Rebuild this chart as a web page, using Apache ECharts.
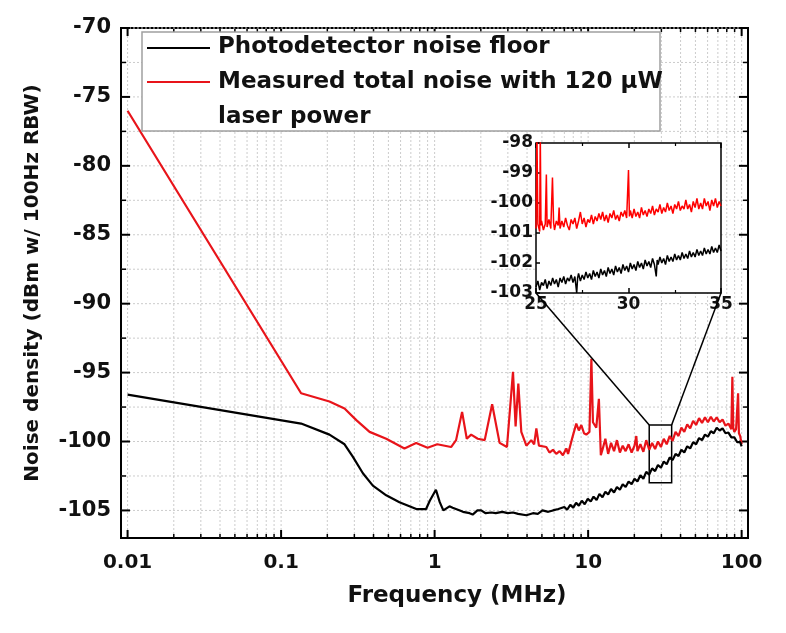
<!DOCTYPE html>
<html>
<head>
<meta charset="utf-8">
<script src="https://cdn.jsdelivr.net/npm/echarts@6/dist/echarts.min.js"></script>
<style>html,body{margin:0;padding:0;background:#fff}#c{width:786px;height:633px}</style>
</head>
<body>
<div id="c"></div>
<script>
// ---------- data (frequency in MHz, noise density in dBm / 100 Hz RBW) ----------
const photodetectorFloor = [
  [0.01,-96.6],[0.135,-98.7],[0.2065,-99.5],[0.259,-100.2],[0.293,-101.1],[0.341,-102.3],[0.396,-103.2],
  [0.484,-103.9],[0.59,-104.4],[0.76,-104.9],[0.88,-104.9],[0.93,-104.3],[1.02,-103.5],[1.08,-104.4],
  [1.14,-105.0],[1.25,-104.7],[1.31,-104.8],[1.46,-105.0],[1.53,-105.1],[1.69,-105.2],[1.77,-105.3],
  [1.9,-105.0],[2.01,-105.0],[2.15,-105.2],[2.34,-105.15],[2.5,-105.2],[2.76,-105.1],[3.0,-105.2],
  [3.24,-105.15],[3.5,-105.25],[3.96,-105.35],[4.37,-105.2],[4.7,-105.25],[5.04,-105.0],[5.5,-105.1],
  [5.9,-105.0],[6.4,-104.9],[7.0,-104.75],[7.3,-104.95],[7.65,-104.6],[8.0,-104.8],[8.35,-104.45],
  [8.7,-104.65],[9.1,-104.3],[9.5,-104.55],[9.95,-104.15],[10.4,-104.35],[10.85,-104.0],[11.35,-104.25],
  [11.85,-103.8],[12.4,-104.05],[12.95,-103.65],[13.5,-103.85],[14.1,-103.45],[14.75,-103.7],[15.4,-103.3],
  [16.1,-103.5],[16.8,-103.1],[17.55,-103.3],[18.35,-102.9],[19.2,-103.1],[20.05,-102.7],[20.95,-102.9],
  [21.9,-102.45],[22.9,-102.7],[23.9,-102.2],[25.0,-102.4],[26.1,-101.95],[27.3,-102.15],[28.5,-101.7],
  [29.8,-101.9],[31.1,-101.45],[32.5,-101.65],[34.0,-101.15],[35.5,-101.35],[37.1,-100.9],[38.8,-101.05],
  [40.5,-100.6],[42.3,-100.8],[44.2,-100.35],[46.2,-100.5],[48.3,-100.05],[50.5,-100.2],[52.8,-99.75],
  [55.2,-99.9],[57.7,-99.5],[60.3,-99.65],[63.0,-99.25],[65.8,-99.4],[68.8,-99.0],[71.9,-99.2],
  [75.1,-99.05],[78.5,-99.4],[82.0,-99.35],[85.7,-99.7],[89.6,-99.7],[93.6,-100.05],[97.8,-100.05],[100,-100.35]
];
const measuredTotal = [
  [0.01,-76.0],[0.135,-96.5],[0.2065,-97.1],[0.259,-97.6],[0.309,-98.45],[0.377,-99.3],[0.484,-99.8],
  [0.636,-100.5],[0.758,-100.1],[0.9,-100.45],[1.04,-100.2],[1.28,-100.4],[1.38,-99.9],[1.51,-97.85],
  [1.62,-99.8],[1.73,-99.5],[1.91,-99.8],[2.12,-99.9],[2.37,-97.3],[2.65,-100.1],[2.96,-100.4],
  [3.24,-94.95],[3.37,-98.9],[3.51,-95.8],[3.67,-99.3],[3.96,-100.3],[4.26,-99.9],[4.45,-100.2],
  [4.6,-99.05],[4.78,-100.3],[5.34,-100.4],[5.6,-100.8],[5.9,-100.6],[6.2,-100.9],[6.52,-100.7],
  [6.85,-101.0],[7.21,-100.5],[7.4,-100.9],[7.57,-101.0],[7.9,-99.7],[8.37,-98.7],[8.7,-99.2],
  [9.03,-98.8],[9.4,-99.4],[9.73,-99.5],[10.2,-99.3],[10.5,-94.0],[10.75,-98.6],[11.0,-98.6],
  [11.3,-99.0],[11.75,-96.9],[12.1,-101.0],[12.4,-100.6],[12.95,-99.8],[13.5,-100.9],[14.1,-100.1],
  [14.75,-100.7],[15.4,-99.9],[16.1,-100.8],[16.8,-100.3],[17.55,-100.7],[18.35,-100.2],[19.2,-100.8],
  [20.05,-100.3],[20.6,-99.6],[20.95,-100.7],[21.9,-100.2],[22.9,-100.75],[23.9,-99.9],[25.0,-100.6],
  [26.1,-100.1],[27.3,-100.55],[28.5,-100.0],[29.8,-100.4],[31.1,-99.8],[32.5,-100.2],[34.0,-99.6],
  [35.5,-99.95],[37.1,-99.3],[38.8,-99.6],[40.5,-99.0],[42.3,-99.3],[44.2,-98.75],[46.2,-99.05],
  [48.3,-98.5],[50.5,-98.8],[52.8,-98.3],[55.2,-98.65],[57.7,-98.25],[60.3,-98.6],[63.0,-98.2],
  [65.8,-98.55],[68.8,-98.25],[71.9,-98.6],[75.1,-98.4],[78.5,-98.85],[82.0,-98.7],[85.7,-99.1],
  [87.0,-95.3],[88.2,-99.0],[89.6,-99.3],[92.0,-99.1],[94.8,-96.5],[96.0,-99.4],[97.8,-99.6],[100,-100.2]
];
// inset (25 - 35 MHz)
const insetTotal = [
  [25.0,-100.85],[25.05,-97.6],[25.1,-100.7],[25.2,-100.95],[25.23,-97.6],[25.27,-100.75],[25.3,-100.6],
  [25.4,-100.9],[25.5,-100.7],[25.56,-99.05],[25.6,-100.8],[25.7,-100.55],[25.8,-100.85],[25.89,-99.15],
  [25.95,-100.65],[26.0,-100.9],[26.1,-100.6],[26.2,-100.75],[26.25,-100.15],[26.3,-100.85],[26.4,-100.6],
  [26.5,-100.8],[26.6,-100.5],[26.7,-100.75],[26.8,-100.9],[26.9,-100.55],[27.0,-100.7],[27.1,-100.5],
  [27.2,-100.85],[27.3,-100.6],[27.4,-100.3],[27.5,-100.7],[27.6,-100.5],[27.7,-100.8],[27.8,-100.55],
  [27.9,-100.65],[28.0,-100.4],[28.1,-100.7],[28.2,-100.45],[28.3,-100.6],[28.4,-100.35],[28.5,-100.55],
  [28.6,-100.3],[28.7,-100.6],[28.8,-100.4],[28.9,-100.65],[29.0,-100.35],[29.1,-100.5],[29.2,-100.25],
  [29.3,-100.55],[29.4,-100.4],[29.5,-100.6],[29.6,-100.3],[29.7,-100.45],[29.8,-100.25],[29.9,-100.5],
  [30.0,-98.9],[30.05,-100.45],[30.1,-100.25],[30.2,-100.5],[30.3,-100.2],[30.4,-100.45],[30.5,-100.3],
  [30.6,-100.5],[30.7,-100.15],[30.8,-100.4],[30.9,-100.25],[31.0,-100.45],[31.1,-100.2],[31.2,-100.35],
  [31.3,-100.1],[31.4,-100.4],[31.5,-100.2],[31.6,-100.3],[31.7,-100.05],[31.8,-100.35],[31.9,-100.15],
  [32.0,-100.3],[32.1,-100.0],[32.2,-100.25],[32.3,-100.1],[32.4,-100.35],[32.5,-100.05],[32.6,-100.2],
  [32.7,-99.95],[32.8,-100.25],[32.9,-100.1],[33.0,-100.2],[33.1,-99.9],[33.2,-100.2],[33.3,-100.05],
  [33.4,-100.3],[33.5,-99.95],[33.6,-100.15],[33.7,-99.85],[33.8,-100.2],[33.9,-100.0],[34.0,-100.2],
  [34.1,-99.85],[34.2,-100.1],[34.3,-99.95],[34.4,-100.25],[34.5,-99.9],[34.6,-100.1],[34.7,-99.85],
  [34.8,-100.15],[34.9,-99.95],[35.0,-100.1]
];
const insetFloor = [
  [25.0,-102.8],[25.1,-102.6],[25.2,-102.9],[25.3,-102.65],[25.4,-102.75],[25.5,-102.55],[25.6,-102.85],
  [25.7,-102.6],[25.8,-102.75],[25.9,-102.5],[26.0,-102.7],[26.1,-102.55],[26.2,-102.8],[26.3,-102.5],
  [26.4,-102.65],[26.5,-102.45],[26.6,-102.7],[26.7,-102.5],[26.8,-102.6],[26.9,-102.4],[27.0,-102.65],
  [27.1,-102.45],[27.2,-103.0],[27.25,-102.5],[27.3,-102.35],[27.4,-102.6],[27.5,-102.4],[27.6,-102.55],
  [27.7,-102.3],[27.8,-102.5],[27.9,-102.35],[28.0,-102.55],[28.1,-102.25],[28.2,-102.45],[28.3,-102.3],
  [28.4,-102.5],[28.5,-102.2],[28.6,-102.4],[28.7,-102.25],[28.8,-102.45],[28.9,-102.15],[29.0,-102.35],
  [29.1,-102.2],[29.2,-102.4],[29.3,-102.1],[29.4,-102.3],[29.5,-102.15],[29.6,-102.35],[29.7,-102.05],
  [29.8,-102.25],[29.9,-102.1],[30.0,-102.3],[30.1,-102.0],[30.2,-102.2],[30.3,-102.05],[30.4,-102.25],
  [30.5,-101.95],[30.6,-102.15],[30.7,-102.0],[30.8,-102.2],[30.9,-101.9],[31.0,-102.1],[31.1,-101.95],
  [31.2,-102.15],[31.3,-101.85],[31.4,-102.05],[31.5,-102.45],[31.55,-101.9],[31.6,-102.05],[31.7,-101.8],
  [31.8,-102.0],[31.9,-101.85],[32.0,-102.05],[32.1,-101.75],[32.2,-101.95],[32.3,-101.8],[32.4,-101.95],
  [32.5,-101.7],[32.6,-101.9],[32.7,-101.75],[32.8,-101.9],[32.9,-101.65],[33.0,-101.85],[33.1,-101.7],
  [33.2,-101.85],[33.3,-101.6],[33.4,-101.8],[33.5,-101.65],[33.6,-101.8],[33.7,-101.55],[33.8,-101.75],
  [33.9,-101.6],[34.0,-101.75],[34.1,-101.5],[34.2,-101.7],[34.3,-101.55],[34.4,-101.7],[34.5,-101.45],
  [34.6,-101.65],[34.7,-101.5],[34.8,-101.65],[34.9,-101.4],[35.0,-101.6]
];
const yTickLabels = [-105, -100, -95, -90, -85, -80, -75, -70];
const zoomFreqRange = [25, 35];
const zoomLevelRange = [-103, -98.8];
const legendNames = ['Photodetector noise floor', 'Measured total noise with 120 \u03bcW', 'laser power'];

// ---------- build ----------
const FONT = '"DejaVu Sans", sans-serif';
const RED = '#e8141a';
const xMin = 0.00906, xMax = 110, yMin = -107, yMax = -70;

const xGridValues = [];
for (let k = -2; k <= 2; k++) for (let m = 1; m <= 9; m++) {
  const v = +(m * Math.pow(10, k)).toPrecision(6);
  if (v >= xMin && v <= xMax) xGridValues.push(v);
}
const yGridValues = [];
for (let v = -105; v <= -70; v += 2.5) yGridValues.push(v);

function isPow10(v) { const l = Math.log10(v); return Math.abs(l - Math.round(l)) < 1e-6; }

const chart = echarts.init(document.getElementById('c'), null, {renderer: 'canvas'});

const gridDash = {stroke: '#cccccc', lineWidth: 1, lineDash: [2, 2]};

const option = {
  animation: false,
  backgroundColor: '#fff',
  grid: [
    {left: 121, top: 28, width: 627, height: 510, show: true, borderColor: '#000', borderWidth: 2, backgroundColor: 'transparent', z: 0},
    {left: 536, top: 143, width: 185, height: 150, show: true, borderColor: '#000', borderWidth: 1.5, backgroundColor: '#fff', z: 3}
  ],
  xAxis: [
    {
      gridIndex: 0, type: 'log', logBase: 10, min: xMin, max: xMax,
      axisLine: {show: false}, axisTick: {show: false}, splitLine: {show: false},
      axisLabel: {
        margin: 15, fontFamily: FONT, fontWeight: 'bold', fontSize: 20, color: '#111',
        showMinLabel: false, showMaxLabel: false,
        formatter: v => isPow10(v) ? String(+(+v).toPrecision(6)) : ''
      },
      name: 'Frequency (MHz)', nameLocation: 'middle', nameGap: 47,
      nameTextStyle: {fontFamily: FONT, fontWeight: 'bold', fontSize: 23, color: '#111', padding: [0, 0, 0, 45]}
    },
    {
      gridIndex: 1, type: 'value', min: 25, max: 35, interval: 5, z: 4,
      axisLine: {show: false},
      axisTick: {inside: true, length: 5, lineStyle: {color: '#000', width: 1.5}},
      minorTick: {show: true, splitNumber: 2, length: 3, lineStyle: {color: '#000', width: 1.2}},
      splitLine: {show: false},
      axisLabel: {margin: 3, fontFamily: FONT, fontWeight: 'bold', fontSize: 17, color: '#111'}
    },
    {
      gridIndex: 1, type: 'value', position: 'top', min: 25, max: 35, interval: 5, z: 4,
      axisLine: {show: false},
      axisTick: {inside: true, length: 5, lineStyle: {color: '#000', width: 1.5}},
      minorTick: {show: true, splitNumber: 2, length: 3, lineStyle: {color: '#000', width: 1.2}},
      splitLine: {show: false}, axisLabel: {show: false}
    }
  ],
  yAxis: [
    {
      gridIndex: 0, type: 'value', min: yMin, max: yMax,
      axisLine: {show: false}, axisTick: {show: false}, splitLine: {show: false},
      axisLabel: {customValues: yTickLabels, margin: 10, fontFamily: FONT, fontWeight: 'bold', fontSize: 21, color: '#111'},
      name: 'Noise density (dBm w/ 100Hz RBW)', nameLocation: 'middle', nameGap: 78,
      nameTextStyle: {fontFamily: FONT, fontWeight: 'bold', fontSize: 20, color: '#111'}
    },
    {
      gridIndex: 1, type: 'value', min: -103, max: -98, interval: 1, z: 4,
      axisLine: {show: false},
      axisTick: {inside: true, length: 4, lineStyle: {color: '#000', width: 1.5}},
      splitLine: {show: false},
      axisLabel: {margin: 3, fontFamily: FONT, fontWeight: 'bold', fontSize: 17, color: '#111'}
    }
  ],
  series: [
    {
      type: 'custom', name: 'xgrid', xAxisIndex: 0, yAxisIndex: 0, silent: true, z: 1,
      data: xGridValues.map(v => [v, -90]),
      renderItem: (params, api) => {
        const cs = params.coordSys;
        const v = api.value(0);
        const x = api.coord([v, -90])[0];
        const len = isPow10(v) ? 8 : 4;
        const b = cs.y + cs.height, t = cs.y;
        return {type: 'group', children: [
          {type: 'line', shape: {x1: x, y1: t, x2: x, y2: b}, style: gridDash},
          {type: 'line', shape: {x1: x, y1: b, x2: x, y2: b - len}, style: {stroke: '#000', lineWidth: isPow10(v) ? 2 : 1.5}},
          {type: 'line', shape: {x1: x, y1: t, x2: x, y2: t + len}, style: {stroke: '#000', lineWidth: isPow10(v) ? 2 : 1.5}}
        ]};
      }
    },
    {
      type: 'custom', name: 'ygrid', xAxisIndex: 0, yAxisIndex: 0, silent: true, z: 1,
      data: yGridValues.map(v => [1, v]),
      renderItem: (params, api) => {
        const cs = params.coordSys;
        const v = api.value(1);
        const y = api.coord([1, v])[1];
        const major = Math.abs(v % 5) < 1e-9;
        const len = major ? 9 : 5;
        const l = cs.x, r = cs.x + cs.width;
        return {type: 'group', children: [
          {type: 'line', shape: {x1: l, y1: y, x2: r, y2: y}, style: gridDash},
          {type: 'line', shape: {x1: l, y1: y, x2: l + len, y2: y}, style: {stroke: '#000', lineWidth: major ? 2 : 1.5}},
          {type: 'line', shape: {x1: r, y1: y, x2: r - len, y2: y}, style: {stroke: '#000', lineWidth: major ? 2 : 1.5}}
        ]};
      }
    },
    {
      type: 'line', name: legendNames[1], xAxisIndex: 0, yAxisIndex: 0, z: 2,
      data: measuredTotal, showSymbol: false, symbol: 'none',
      lineStyle: {color: RED, width: 2.2}
    },
    {
      type: 'line', name: legendNames[0], xAxisIndex: 0, yAxisIndex: 0, z: 2,
      data: photodetectorFloor, showSymbol: false, symbol: 'none',
      lineStyle: {color: '#000', width: 2.2}
    },
    {
      type: 'custom', name: 'zoombox', xAxisIndex: 0, yAxisIndex: 0, silent: true, z: 2,
      data: [[zoomFreqRange[0], zoomFreqRange[1], zoomLevelRange[0], zoomLevelRange[1]]],
      dimensions: ['f0', 'f1', 'lo', 'hi'],
      encode: {x: [0, 1], y: [2, 3]},
      renderItem: (params, api) => {
        const p1 = api.coord([api.value(0), api.value(3)]);
        const p2 = api.coord([api.value(1), api.value(2)]);
        return {type: 'rect', shape: {x: p1[0], y: p1[1], width: p2[0] - p1[0], height: p2[1] - p1[1]},
          style: {fill: 'none', stroke: '#000', lineWidth: 1.5}};
      }
    },
    {
      type: 'line', name: 'inset total', xAxisIndex: 1, yAxisIndex: 1, z: 5,
      data: insetTotal, showSymbol: false, symbol: 'none', clip: true,
      lineStyle: {color: '#ff0000', width: 1.5}
    },
    {
      type: 'line', name: 'inset floor', xAxisIndex: 1, yAxisIndex: 1, z: 5,
      data: insetFloor, showSymbol: false, symbol: 'none', clip: true,
      lineStyle: {color: '#000', width: 1.5}
    }
  ]
};
chart.setOption(option);

// connecting lines between zoom box and inset, plus legend
const a = chart.convertToPixel({gridIndex: 0}, [zoomFreqRange[0], zoomLevelRange[1]]);
const b = chart.convertToPixel({gridIndex: 1}, [zoomFreqRange[0], -103]);
const c = chart.convertToPixel({gridIndex: 0}, [zoomFreqRange[1], zoomLevelRange[1]]);
const d = chart.convertToPixel({gridIndex: 1}, [zoomFreqRange[1], -103]);
const legendFont = 'bold 23px ' + FONT;
chart.setOption({
  graphic: {elements: [
    {id: 'c1', type: 'line', z: 6, shape: {x1: a[0], y1: a[1], x2: b[0], y2: b[1]}, style: {stroke: '#000', lineWidth: 1.5}},
    {id: 'c2', type: 'line', z: 6, shape: {x1: c[0], y1: c[1], x2: d[0], y2: d[1]}, style: {stroke: '#000', lineWidth: 1.5}},
    {id: 'lgbox', type: 'rect', z: 50, shape: {x: 142, y: 32, width: 518, height: 99}, style: {fill: '#fff', stroke: '#a0a0a0', lineWidth: 1.5}},
    {id: 'lg1', type: 'line', z: 51, shape: {x1: 147, y1: 48, x2: 210, y2: 48}, style: {stroke: '#000', lineWidth: 2}},
    {id: 'lg2', type: 'line', z: 51, shape: {x1: 147, y1: 82, x2: 210, y2: 82}, style: {stroke: RED, lineWidth: 2}},
    {id: 'lt1', type: 'text', z: 51, x: 218, y: 47, style: {text: legendNames[0], font: legendFont, fill: '#111', verticalAlign: 'middle'}},
    {id: 'lt2', type: 'text', z: 51, x: 218, y: 82, style: {text: legendNames[1], font: legendFont, fill: '#111', verticalAlign: 'middle'}},
    {id: 'lt3', type: 'text', z: 51, x: 218, y: 117, style: {text: legendNames[2], font: legendFont, fill: '#111', verticalAlign: 'middle'}}
  ]}
});
</script>
</body>
</html>
